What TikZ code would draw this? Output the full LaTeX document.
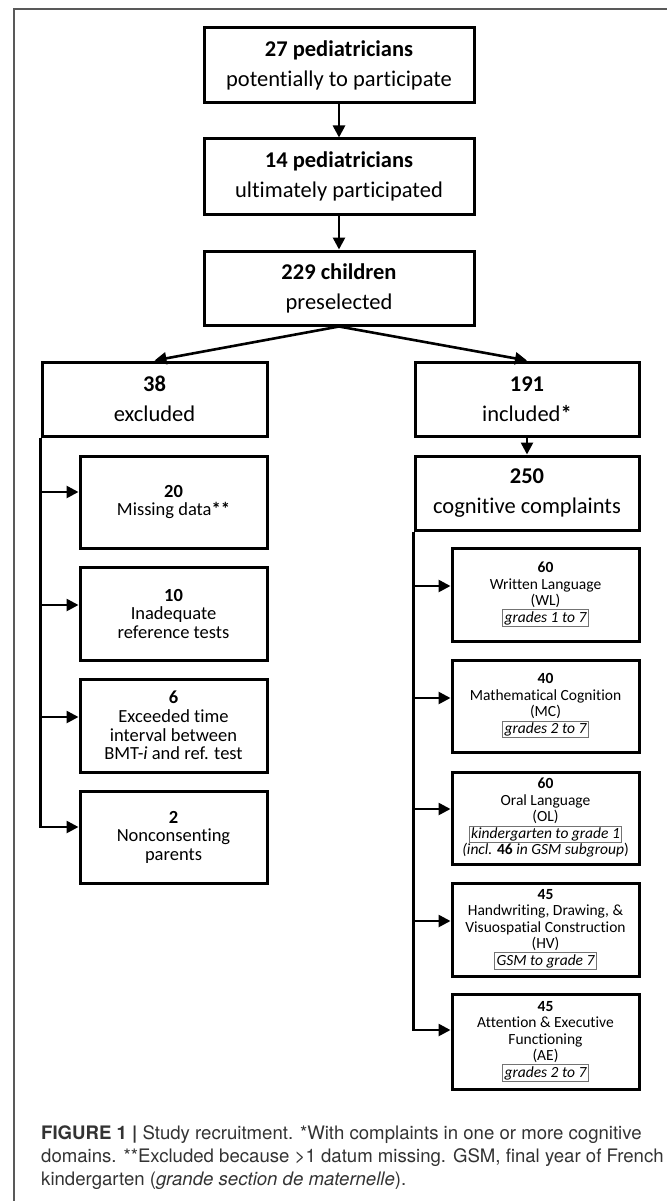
\documentclass[tikz,border=0pt]{standalone}
\usepackage{fontspec}
\setmainfont{Carlito}[Ligatures=NoCommon]
\newfontfamily\capfont{TeX Gyre Heros}
\usetikzlibrary{arrows.meta}
\newcommand{\gframe}[1]{{\setlength{\fboxsep}{1.2pt}\setlength{\fboxrule}{0.9pt}\textcolor{black!55}{\fbox{\color{black}\itshape #1}}}}
\begin{document}
\begin{tikzpicture}[x=1pt,y=-1pt,
  box/.style={draw, line width=3pt, align=center, inner sep=0pt},
  bigtext/.style={font=\fontsize{22.5}{30}\selectfont},
  lefttext/.style={font=\fontsize{18.5}{18.5}\selectfont},
  righttext/.style={font=\fontsize{15.5}{16.5}\selectfont},
  topbox/.style={box, bigtext, minimum width=270pt, minimum height=75pt},
  midbox/.style={box, bigtext, minimum width=224pt, minimum height=74pt},
  leftbox/.style={box, lefttext, minimum width=187pt, minimum height=92pt},
  rightbox/.style={box, righttext, minimum width=187pt, minimum height=93pt},
  conn/.style={line width=2.6pt},
  arr/.style={conn, -{Triangle[length=12pt,width=12pt]}},
  captext/.style={anchor=base west, inner sep=0pt, text=black!80, font=\capfont\fontsize{18.6}{22}\selectfont}
]
\useasboundingbox (0,0) rectangle (667,1201);
% outer frame
\draw[line width=1.5pt, black!65] (14,1201) -- (14,9) -- (667,9);

% top chain
\node[topbox] (b1) at (339,65.5) {\textbf{27 pediatricians}\\potentially to participate};
\node[topbox] (b2) at (339,176.5) {\textbf{14 pediatricians}\\ultimately participated};
\node[topbox, minimum height=74pt] (b3) at (339,288) {\textbf{229 children}\\preselected};

\node[midbox, minimum width=225pt] (b38) at (154.5,399) {\textbf{38}\\excluded};
\node[midbox] (b191) at (527,399) {\textbf{191}\\included\textbf{*}};
\node[midbox] (b250) at (527,493) {\textbf{250}\\cognitive complaints};

% left column
\node[leftbox] (l20) at (173.5,502) {\textbf{20}\\Missing data\textbf{**}};
\node[leftbox, minimum height=93pt] (l10) at (173.5,613.5) {\textbf{10}\\Inadequate\\reference tests};
\node[leftbox, minimum height=93pt] (l6) at (173.5,725.5) {\textbf{6}\\Exceeded time\\interval between\\BMT-\textit{i} and ref. test};
\node[leftbox] (l2) at (173.5,837) {\textbf{2}\\Nonconsenting\\parents};

% right column
\node[rightbox] (wl) at (545.5,594.5) {\textbf{60}\\Written Language\\(WL)\\\gframe{grades 1 to 7}};
\node[rightbox, minimum height=92pt] (mc) at (545.5,706) {\textbf{40}\\Mathematical Cognition\\(MC)\\\gframe{grades 2 to 7}};
\node[rightbox, minimum height=92pt] (ol) at (545.5,818) {\textbf{60}\\Oral Language\\(OL)\\\gframe{kindergarten to grade 1}\\\textit{(incl. }\textbf{46}\textit{ in GSM subgroup})};
\node[rightbox] (hv) at (545.5,929.5) {\textbf{45}\\Handwriting, Drawing, \&\\Visuospatial Construction\\(HV)\\\gframe{GSM to grade 7}};
\node[rightbox, minimum height=95pt] (ae) at (545.5,1041.5) {\textbf{45}\\Attention \& Executive\\Functioning\\(AE)\\\gframe{grades 2 to 7}};

% connectors
\draw[arr] (b1.south) -- (b2.north);
\draw[arr] (b2.south) -- (b3.north);
\draw[arr] (b3.south) -- (b38.north);
\draw[arr] (b3.south) -- (b191.north);
\draw[arr] (b191.south) -- (b250.north);

\coordinate (a20) at ([yshift=10pt]l20.west);
\coordinate (a10) at ([yshift=8.5pt]l10.west);
\coordinate (a6) at ([yshift=8.5pt]l6.west);
\coordinate (a2) at ([yshift=10pt]l2.west);
\draw[arr] (b38.south west) |- (a2);
\foreach \a in {a20,a10,a6} \draw[arr] (b38.south west |- \a) -- (\a);

\coordinate (awl) at ([yshift=8.5pt]wl.west);
\coordinate (amc) at ([yshift=8pt]mc.west);
\coordinate (aol) at ([yshift=9pt]ol.west);
\coordinate (ahv) at ([yshift=8.5pt]hv.west);
\coordinate (aae) at ([yshift=11.5pt]ae.west);
\draw[arr] (b250.south west) |- (aae);
\foreach \a in {awl,amc,aol,ahv} \draw[arr] (b250.south west |- \a) -- (\a);

% caption
\node[captext] (cap1) at (41,1139) {\textbf{FIGURE 1 |} Study recruitment. *With complaints in one or more cognitive};
\node[captext] (cap2) at (41,1162) {domains. **Excluded because >1 datum missing. GSM, final year of French};
\node[captext] (cap3) at (41,1185) {kindergarten (\textit{grande section de maternelle}).};
\end{tikzpicture}
\end{document}
